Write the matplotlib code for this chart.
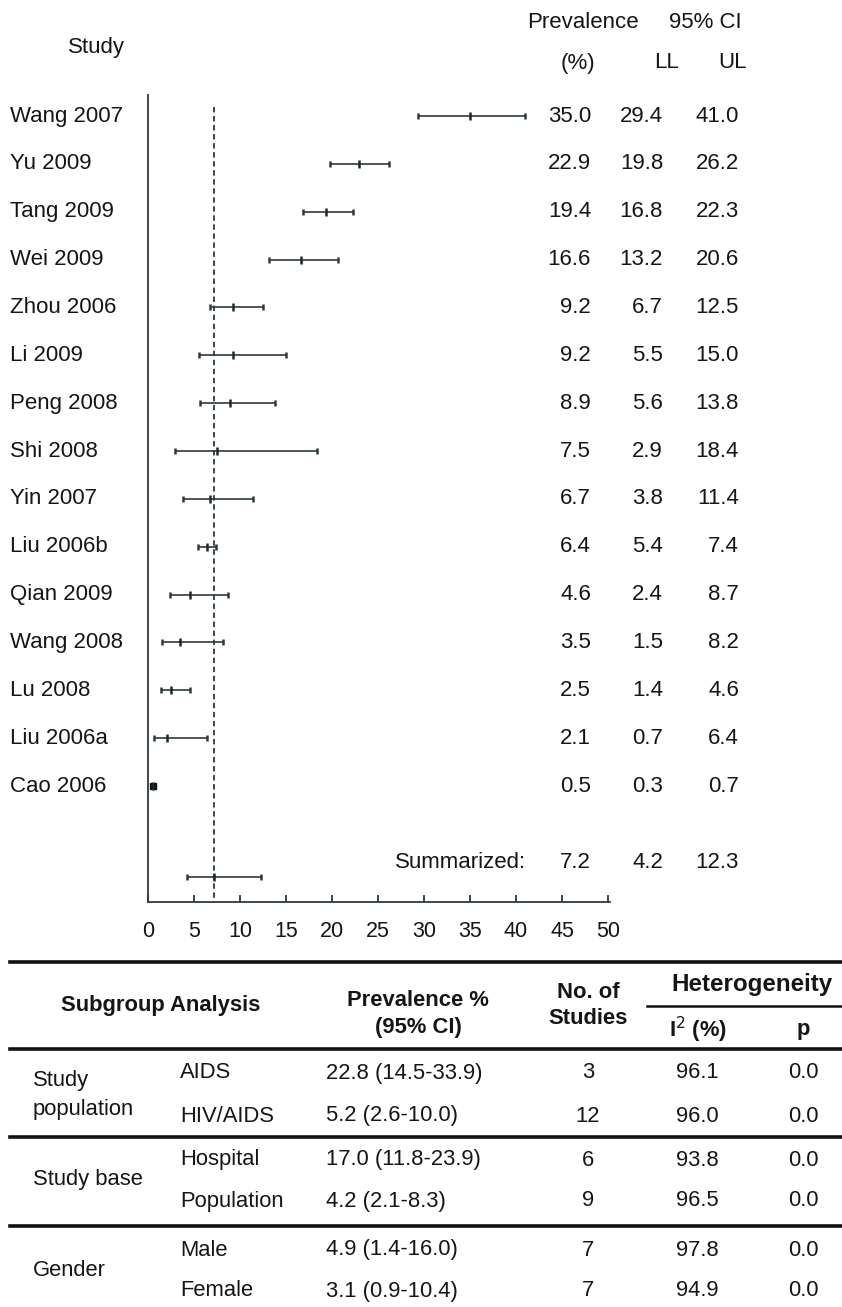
import matplotlib
matplotlib.use('Agg')
import matplotlib.pyplot as plt
import matplotlib.transforms as mtransforms
from matplotlib.lines import Line2D

# Set text format
plt.rcParams['font.family'] = ['Liberation Sans', 'DejaVu Sans']
plt.rcParams['font.size'] = 15.8

# Forest plot data
studies = ['Wang 2007', 'Yu 2009', 'Tang 2009', 'Wei 2009', 'Zhou 2006', 'Li 2009',
           'Peng 2008', 'Shi 2008', 'Yin 2007', 'Liu 2006b', 'Qian 2009', 'Wang 2008',
           'Lu 2008', 'Liu 2006a', 'Cao 2006']
prev = [35.0, 22.9, 19.4, 16.6, 9.2, 9.2, 8.9, 7.5, 6.7, 6.4, 4.6, 3.5, 2.5, 2.1, 0.5]
ll = [29.4, 19.8, 16.8, 13.2, 6.7, 5.5, 5.6, 2.9, 3.8, 5.4, 2.4, 1.5, 1.4, 0.7, 0.3]
ul = [41.0, 26.2, 22.3, 20.6, 12.5, 15.0, 13.8, 18.4, 11.4, 7.4, 8.7, 8.2, 4.6, 6.4, 0.7]
summ_prev, summ_ll, summ_ul = 7.2, 4.2, 12.3
xticks = [0, 5, 10, 15, 20, 25, 30, 35, 40, 45, 50]

# Subgroup table data
groups = ['Study\npopulation', 'Study base', 'Gender']
subgroups = ['AIDS', 'HIV/AIDS', 'Hospital', 'Population', 'Male', 'Female']
sub_prev = ['22.8 (14.5-33.9)', '5.2 (2.6-10.0)', '17.0 (11.8-23.9)', '4.2 (2.1-8.3)',
            '4.9 (1.4-16.0)', '3.1 (0.9-10.4)']
n_studies = ['3', '12', '6', '9', '7', '7']
i2 = ['96.1', '96.0', '93.8', '96.5', '97.8', '94.9']
pvals = ['0.0', '0.0', '0.0', '0.0', '0.0', '0.0']

W, H = 842, 1307
fig = plt.figure(figsize=(W / 100, H / 100), dpi=100)

def fx(px):
    return px / W

def fy(py):
    return 1 - py / H

line_col = '#2e3a3a'
txt_col = '#151515'
fs = 16

# Forest plot axes (row 0 at the top)
row_px = 47.86
ax = fig.add_axes([fx(148), fy(902), fx(610) - fx(148), fy(95) - fy(902)])
ax.set_xlim(0, 50 * (610 - 148) / 460)
ax.set_ylim((902 - 116) / row_px, (95 - 116) / row_px)
for s in ['top', 'right']:
    ax.spines[s].set_visible(False)
for s in ['left', 'bottom']:
    ax.spines[s].set_color(line_col)
    ax.spines[s].set_linewidth(1.3)
ax.set_yticks([])
ax.set_xticks(xticks)
ax.tick_params(axis='x', direction='in', length=5, width=1.3, color=line_col,
               labelsize=15.5, labelcolor=txt_col, pad=14)

rows = list(range(len(studies)))
err = [[p - l for p, l in zip(prev, ll)], [u - p for p, u in zip(prev, ul)]]
ax.errorbar(prev, rows, xerr=err, fmt='|', color='#1e2828', ecolor=line_col,
            elinewidth=1.2, capsize=2.5, capthick=1.8, markersize=6, mew=1.8)
ax.plot([prev[-1]], [rows[-1]], 's', color='#111111', markersize=5)

summ_row = (877 - 116) / row_px
ax.errorbar([summ_prev], [summ_row], xerr=[[summ_prev - summ_ll], [summ_ul - summ_prev]],
            fmt='|', color='#1e2828', ecolor=line_col, elinewidth=1.2, capsize=2.5,
            capthick=1.8, markersize=6, mew=1.8)
ax.vlines(summ_prev, (107 - 116) / row_px, (902 - 116) / row_px, colors=line_col,
          linestyles=(0, (3, 2)), linewidth=1.3)

# Text columns next to the rows
tr = mtransforms.blended_transform_factory(fig.transFigure, ax.transData)
for i, name in enumerate(studies):
    ax.text(fx(10), i, name, transform=tr, ha='left', va='center', color=txt_col, fontsize=fs)
    ax.text(fx(591), i, '%.1f' % prev[i], transform=tr, ha='right', va='center', color=txt_col, fontsize=fs)
    ax.text(fx(663), i, '%.1f' % ll[i], transform=tr, ha='right', va='center', color=txt_col, fontsize=fs)
    ax.text(fx(739), i, '%.1f' % ul[i], transform=tr, ha='right', va='center', color=txt_col, fontsize=fs)
summ_txt = (862 - 116) / row_px
ax.text(fx(526), summ_txt, 'Summarized:', transform=tr, ha='right', va='center', color=txt_col, fontsize=fs)
ax.text(fx(591), summ_txt, '%.1f' % summ_prev, transform=tr, ha='right', va='center', color=txt_col, fontsize=fs)
ax.text(fx(663), summ_txt, '%.1f' % summ_ll, transform=tr, ha='right', va='center', color=txt_col, fontsize=fs)
ax.text(fx(739), summ_txt, '%.1f' % summ_ul, transform=tr, ha='right', va='center', color=txt_col, fontsize=fs)

# Column headers
fig.text(fx(96), fy(48), 'Study', ha='center', va='center', color=txt_col, fontsize=fs)
fig.text(fx(583), fy(22), 'Prevalence', ha='center', va='center', color=txt_col, fontsize=fs)
fig.text(fx(705), fy(22), '95% CI', ha='center', va='center', color=txt_col, fontsize=fs)
fig.text(fx(578), fy(63), '(%)', ha='center', va='center', color=txt_col, fontsize=fs)
fig.text(fx(667), fy(63), 'LL', ha='center', va='center', color=txt_col, fontsize=fs)
fig.text(fx(733), fy(63), 'UL', ha='center', va='center', color=txt_col, fontsize=fs)

# Subgroup table
def hline(y, x0=10, x1=842, lw=2.6):
    fig.add_artist(Line2D([fx(x0), fx(x1)], [fy(y), fy(y)], color='#111111', lw=lw))

hline(962)
hline(1006, 647, 842, 1.8)
hline(1049)
hline(1137)
hline(1226)

fig.text(fx(161), fy(1005), 'Subgroup Analysis', ha='center', va='center', fontweight='bold', color=txt_col)
fig.text(fx(418), fy(1000), 'Prevalence %', ha='center', va='center', fontweight='bold', color=txt_col)
fig.text(fx(418), fy(1027), '(95% CI)', ha='center', va='center', fontweight='bold', color=txt_col)
fig.text(fx(588), fy(993), 'No. of', ha='center', va='center', fontweight='bold', color=txt_col)
fig.text(fx(588), fy(1019), 'Studies', ha='center', va='center', fontweight='bold', color=txt_col)
fig.text(fx(752), fy(985), 'Heterogeneity', ha='center', va='center', fontweight='bold', color=txt_col, fontsize=17.4)
fig.text(fx(698), fy(1030), 'I$^{2}$ (%)', ha='center', va='center', fontweight='bold', color=txt_col)
fig.text(fx(803), fy(1030), 'p', ha='center', va='center', fontweight='bold', color=txt_col)

row_y = [1073, 1116, 1160, 1201, 1250, 1291]
group_y = [1095, 1180, 1270]
for g, gy in zip(groups, group_y):
    fig.text(fx(33), fy(gy), g, ha='left', va='center', color=txt_col, linespacing=1.5)
for j, y in enumerate(row_y):
    fig.text(fx(180), fy(y), subgroups[j], ha='left', va='center', color=txt_col)
    fig.text(fx(326), fy(y), sub_prev[j], ha='left', va='center', color=txt_col)
    fig.text(fx(588), fy(y), n_studies[j], ha='center', va='center', color=txt_col)
    fig.text(fx(697), fy(y), i2[j], ha='center', va='center', color=txt_col)
    fig.text(fx(803), fy(y), pvals[j], ha='center', va='center', color=txt_col)

fig.savefig('out.png', dpi=100, facecolor='white')
